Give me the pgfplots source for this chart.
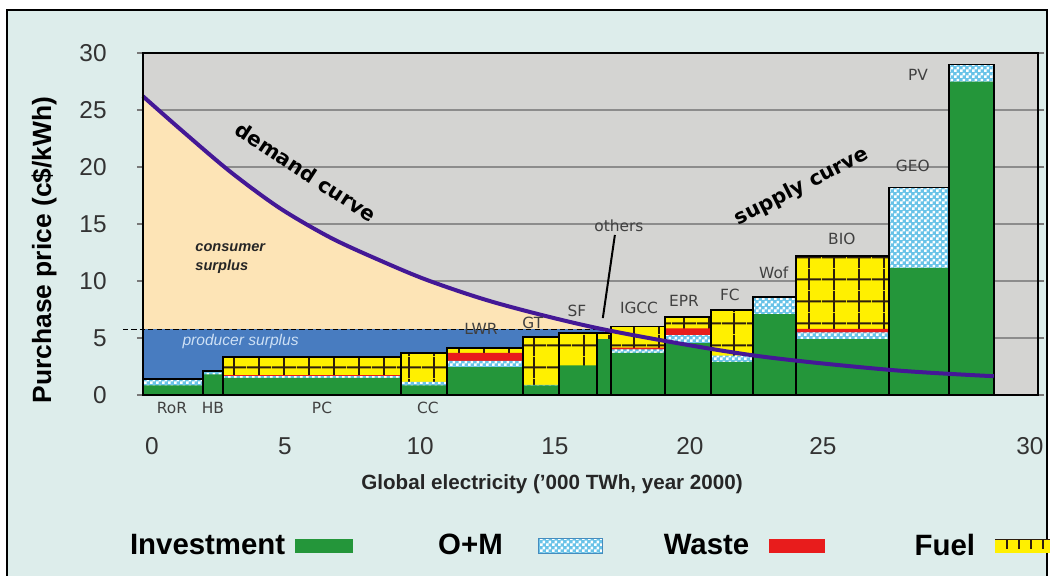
\documentclass[border=0pt]{standalone}
\usepackage{fontspec}
\setmainfont{Liberation Sans}
\newfontfamily\dejavu{DejaVu Sans}
\usepackage{pgfplots}
\pgfplotsset{compat=1.18}
\usepackage{pgfplotstable}
\usetikzlibrary{patterns.meta}

% palette
\definecolor{panel}{RGB}{221,237,235}
\definecolor{plotbg}{RGB}{212,212,210}
\definecolor{gridgray}{RGB}{140,140,140}
\definecolor{tickgray}{RGB}{120,120,120}
\definecolor{peach}{RGB}{253,228,182}
\definecolor{prodblue}{RGB}{72,124,192}
\definecolor{invgreen}{RGB}{36,150,58}
\definecolor{omblue}{RGB}{105,195,232}
\definecolor{ombord}{RGB}{70,140,190}
\definecolor{wastered}{RGB}{232,28,28}
\definecolor{fuelyellow}{RGB}{255,240,0}
\definecolor{fuelline}{RGB}{45,30,15}
\definecolor{demandpurple}{RGB}{68,24,150}
\definecolor{labelgray}{RGB}{64,64,64}

% fuel blocks: yellow cells separated by dark rules
\pgfdeclarepattern{
  name=fuelgrid, type=uncolored,
  bottom left={\pgfpointorigin},
  top right={\pgfpoint{12.25pt}{11pt}},
  tile size={\pgfpoint{12.25pt}{11pt}},
  code={
    \pgfsetlinewidth{1pt}
    \pgfpathmoveto{\pgfpoint{0pt}{5.5pt}}
    \pgfpathlineto{\pgfpoint{12.25pt}{5.5pt}}
    \pgfpathmoveto{\pgfpoint{6.125pt}{0pt}}
    \pgfpathlineto{\pgfpoint{6.125pt}{11pt}}
    \pgfusepath{stroke}
  }
}
% O+M blocks: fine checkerboard
\pgfdeclarepattern{
  name=omchecks, type=uncolored,
  bottom left={\pgfpointorigin},
  top right={\pgfpoint{3pt}{3pt}},
  tile size={\pgfpoint{3pt}{3pt}},
  code={
    \pgfpathrectangle{\pgfpointorigin}{\pgfpoint{1.5pt}{1.5pt}}
    \pgfpathrectangle{\pgfpoint{1.5pt}{1.5pt}}{\pgfpoint{1.5pt}{1.5pt}}
    \pgfusepath{fill}
  }
}

% left edge of each technology block (last row = right edge of PV)
% columns: investment, O+M, waste, fuel  (c$/kWh)
\pgfplotstableread{
x      inv    om     waste  fuel
0      0.85   0.55   0      0
2.24   1.80   0.30   0      0
2.99   1.50   0.15   0.10   1.60
9.63   0.85   0.30   0      2.55
11.34  2.45   0.55   0.70   0.40
14.18  0.85   0.05   0      4.20
15.52  2.60   0      0      2.85
16.94  4.90   0      0      0.55
17.46  3.70   0.30   0.15   1.85
19.48  4.55   0.70   0.60   1.00
21.19  2.90   0.55   0      4.00
22.76  7.10   1.50   0      0
24.37  4.90   0.60   0.30   6.40
27.84  11.15  7.05   0      0
30.07  27.50  1.50   0      0
31.75  0      0      0      0
}\costs

\tikzset{
  techlabel/.style={font=\dejavu\fontsize{7.7}{9}\selectfont, text=labelgray, inner sep=0pt},
}

\begin{document}
\begin{tikzpicture}
\useasboundingbox (0,0) rectangle (525pt,-287.5pt);
\fill[white] (0,0) rectangle (525pt,-287.5pt);
\fill[panel] (3.5pt,-5pt) rectangle (523.5pt,-295pt);
\draw[line width=1pt] (3.5pt,-295pt) -- (3.5pt,-5pt) -- (523.5pt,-5pt) -- (523.5pt,-295pt);

\begin{axis}[
  at={(71.5pt,-197.5pt)}, anchor=south west,
  scale only axis, width=447.5pt, height=171pt,
  xmin=0, xmax=33.4, ymin=0, ymax=30,
  clip=false,
  axis background/.style={fill=plotbg},
  axis line style={black, line width=1pt},
  xtick={0.336,5.30,10.34,15.37,20.41,25.37,33.10},
  xticklabels={0,5,10,15,20,25,30},
  xtick style={draw=none},
  ytick={0,5,...,30},
  ymajorgrids, grid style={gridgray, line width=0.6pt},
  ytick style={tickgray, line width=0.6pt},
  tick align=outside, major tick length=3pt,
  /pgf/number format/assume math mode=true,
  ticklabel style={font=\fontsize{12.2}{13}\selectfont, text=black!80},
  xticklabel style={anchor=center, yshift=-22.5pt},
  yticklabel style={anchor=east, inner sep=0pt, xshift=-15pt},
  xlabel={Global electricity ('000 TWh, year 2000)},
  xlabel style={at={(rel axis cs:0.457,-0.26)}, anchor=center,
    font=\bfseries\fontsize{10.3}{12}\selectfont, text=black!85},
  ylabel={Purchase price (c\$/kWh)},
  ylabel style={at={(rel axis cs:-0.1106,0.424)}, anchor=center,
    font=\bfseries\fontsize{13.2}{15}\selectfont},
  legend columns=4, legend plot pos=right,
  legend style={at={(rel axis cs:-0.0145,-0.4415)}, anchor=west,
    draw=none, fill=none, inner sep=0pt, outer sep=0pt,
    font=\bfseries\fontsize{14.7}{17}\selectfont,
    nodes={inner sep=0pt, outer sep=0pt}},
]

% legend keys (an invisible path sets the spacing of each key)
\addlegendimage{legend image code/.code={
  \path[draw=none, fill=none] (0pt,-4pt) (76.5pt,4pt);
  \fill[invgreen, draw=none] (5pt,-3.6pt) rectangle (34pt,3.6pt);}}
\addlegendentry{Investment}
\addlegendimage{legend image code/.code={
  \path[draw=none, fill=none] (0pt,-4pt) (80.5pt,4pt);
  \fill[omblue, draw=none, postaction={pattern=omchecks, pattern color=white}] (18pt,-3.6pt) rectangle (50pt,3.6pt);
  \draw[ombord, fill=none, line width=0.4pt] (18pt,-3.6pt) rectangle (50pt,3.6pt);}}
\addlegendentry{O+M}
\addlegendimage{legend image code/.code={
  \path[draw=none, fill=none] (0pt,-4pt) (82.7pt,4pt);
  \fill[wastered, draw=none] (9.7pt,-3.6pt) rectangle (37.7pt,3.6pt);}}
\addlegendentry{Waste}
\addlegendimage{legend image code/.code={
  \path[draw=none, fill=none] (0pt,-4pt) (45pt,4pt);
  \fill[fuelyellow, draw=none] (10pt,-3.6pt) rectangle (45pt,3.6pt);
  \draw[fuelline, line width=0.8pt] (10pt,3.2pt) -- (45pt,3.2pt);
  \foreach \u in {16,22,28,34,40} \draw[fuelline, line width=0.6pt] (\u pt,3.2pt) -- (\u pt,-1.5pt);}}
\addlegendentry{Fuel}

% consumer surplus under the demand curve
\addplot[fill=peach, draw=none, smooth, forget plot] coordinates {
  (0,26.2) (1.4,23.3) (3.25,19.6) (5.1,16.4) (7.0,13.8) (8.85,11.8)
  (10.7,10.0) (13.3,8.0) (17.2,5.75)} \closedcycle;
% producer surplus below the clearing price
\addplot[fill=prodblue, draw=none, forget plot] coordinates {(0,5.75) (17.2,5.75)} \closedcycle;
\addplot[black, line width=0.8pt, dash pattern=on 2.6pt off 1.6pt, forget plot]
  coordinates {(-0.75,5.75) (17.2,5.75)};

% supply stack, drawn top layer first
\addplot[ybar interval, fill=fuelyellow, draw=none,
  postaction={pattern=fuelgrid, pattern color=fuelline}, forget plot]
  table[x=x, y expr={(\thisrow{fuel}>0)*(\thisrow{inv}+\thisrow{om}+\thisrow{waste}+\thisrow{fuel})}] {\costs};
\addplot[ybar interval, fill=wastered, draw=none, forget plot]
  table[x=x, y expr={(\thisrow{waste}>0)*(\thisrow{inv}+\thisrow{om}+\thisrow{waste})}] {\costs};
\addplot[ybar interval, fill=omblue, draw=none,
  postaction={pattern=omchecks, pattern color=white}, forget plot]
  table[x=x, y expr={(\thisrow{om}>0)*(\thisrow{inv}+\thisrow{om})}] {\costs};
\addplot[ybar interval, fill=invgreen, draw=none, forget plot]
  table[x=x, y=inv] {\costs};
\addplot[ybar interval, fill=none, draw=black, line width=0.8pt, forget plot]
  table[x=x, y expr={\thisrow{inv}+\thisrow{om}+\thisrow{waste}+\thisrow{fuel}}] {\costs};

% demand curve
\addplot[demandpurple, line width=2pt, smooth, forget plot] coordinates {
  (0,26.2) (1.4,23.3) (3.25,19.6) (5.1,16.4) (7.0,13.8) (8.85,11.8)
  (10.7,10.0) (13.3,8.0) (17.2,5.75) (22.7,3.5) (27.9,2.2) (31.75,1.65)};

\draw[black, line width=1pt] (rel axis cs:0,0) -- (rel axis cs:0,1);

% annotations
\node[font=\dejavu\bfseries\fontsize{10.2}{12}\selectfont, rotate=-33] at (axis cs:6.08,19.56) {demand curve};
\node[font=\dejavu\bfseries\fontsize{10.2}{12}\selectfont, rotate=27] at (axis cs:24.59,18.25) {supply curve};
\node[font=\bfseries\itshape\fontsize{7.3}{9.5}\selectfont, text=black!85, align=left, anchor=west, inner sep=0pt]
  at (axis cs:1.94,12.0) {consumer\\surplus};
\node[font=\itshape\fontsize{7.8}{9}\selectfont, text={rgb,255:red,205;green,224;blue,245}, anchor=west, inner sep=0pt]
  at (axis cs:1.46,4.74) {producer surplus};

\node[techlabel] at (axis cs:1.08,-1.14) {RoR};
\node[techlabel] at (axis cs:2.61,-1.14) {HB};
\node[techlabel] at (axis cs:6.68,-1.14) {PC};
\node[techlabel] at (axis cs:10.63,-1.14) {CC};
\node[techlabel] at (axis cs:12.61,5.79) {LWR};
\node[techlabel] at (axis cs:14.55,6.32) {GT};
\node[techlabel] at (axis cs:16.19,7.37) {SF};
\node[techlabel] at (axis cs:17.76,14.82) {others};
\node[techlabel] at (axis cs:18.51,7.63) {IGCC};
\node[techlabel] at (axis cs:20.19,8.25) {EPR};
\node[techlabel] at (axis cs:21.90,8.77) {FC};
\node[techlabel] at (axis cs:23.54,10.70) {Wof};
\node[techlabel] at (axis cs:26.08,13.68) {BIO};
\node[techlabel] at (axis cs:28.73,20.09) {GEO};
\node[techlabel] at (axis cs:28.92,28.07) {PV};
\draw[black, line width=1pt] (axis cs:17.61,14.04) -- (axis cs:17.16,6.75);
\end{axis}
\end{tikzpicture}
\end{document}
